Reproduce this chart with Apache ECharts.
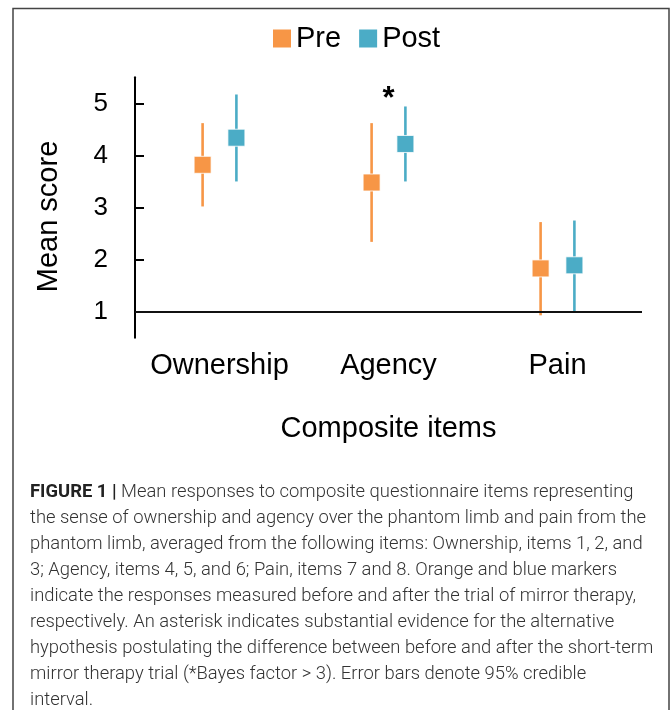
<!DOCTYPE html>
<html>
<head>
<meta charset="utf-8">
<script src="https://cdn.jsdelivr.net/npm/echarts@6/dist/echarts.min.js"></script>
<style>
html,body{margin:0;padding:0;background:#fff;}
#chart{width:672px;height:710px;}
</style>
</head>
<body>
<div id="chart"></div>
<script>
// ---- data ----
var categories = ['Ownership', 'Agency', 'Pain'];
var preMean  = [3.82, 3.48, 1.83];
var preLow   = [3.02, 2.34, 0.93];
var preHigh  = [4.62, 4.62, 2.72];
var postMean = [4.34, 4.22, 1.89];
var postLow  = [3.50, 3.50, 1.01];
var postHigh = [5.17, 4.94, 2.75];
var sigMarks = ['', '*', ''];
var yTickValues = [1, 2, 3, 4, 5];
var captionLines = [
  '{b|FIGURE 1 |} Mean responses to composite questionnaire items representing',
  'the sense of ownership and agency over the phantom limb and pain from the',
  'phantom limb, averaged from the following items: Ownership, items 1, 2, and',
  '3; Agency, items 4, 5, and 6; Pain, items 7 and 8. Orange and blue markers',
  'indicate the responses measured before and after the trial of mirror therapy,',
  'respectively. An asterisk indicates substantial evidence for the alternative',
  'hypothesis postulating the difference between before and after the short-term',
  'mirror therapy trial (*Bayes factor > 3). Error bars denote 95% credible',
  'interval.'
];

var ORANGE = '#F79646';
var BLUE = '#4BACC6';
var FONT = 'Liberation Sans, Arial, sans-serif';
var CAP_FONT = 'Roboto, Liberation Sans, sans-serif';

function buildData(mean, low, high) {
  return categories.map(function (c, i) { return [i, mean[i], low[i], high[i]]; });
}

function makeRender(offsetFrac, color) {
  return function (params, api) {
    var x = api.value(0);
    var bw = api.size([1, 0])[0];
    var dx = offsetFrac * bw;
    var c = api.coord([x, api.value(1)]);
    var lo = api.coord([x, api.value(2)]);
    var hi = api.coord([x, api.value(3)]);
    var px = c[0] + dx;
    var s = 17;
    return {
      type: 'group',
      children: [
        { type: 'line', shape: { x1: px, y1: lo[1], x2: px, y2: hi[1] },
          style: { stroke: color, lineWidth: 2.6 } },
        { type: 'rect', shape: { x: px - s / 2, y: c[1] - s / 2, width: s, height: s },
          style: { fill: color, stroke: 'rgba(255,255,255,0.8)', lineWidth: 1 } }
      ]
    };
  };
}

var chart = echarts.init(document.getElementById('chart'), null, { renderer: 'canvas' });

var option = {
  animation: false,
  backgroundColor: '#fff',
  textStyle: { fontFamily: FONT },
  grid: { left: 135, right: 30, top: 77.3, bottom: 372.3, containLabel: false },
  legend: {
    left: 268, top: 19,
    icon: 'rect', itemWidth: 18, itemHeight: 18, itemGap: 18,
    textStyle: { fontSize: 29, color: '#000', fontFamily: FONT },
    data: [
      { name: 'Pre', itemStyle: { color: ORANGE } },
      { name: 'Post', itemStyle: { color: BLUE } }
    ]
  },
  xAxis: {
    type: 'category',
    data: categories,
    boundaryGap: true,
    axisLine: { show: false },
    axisTick: { show: false },
    axisLabel: { fontSize: 29, color: '#000', margin: 14, interval: 0, hideOverlap: false, fontFamily: FONT },
    name: 'Composite items',
    nameLocation: 'middle',
    nameGap: 77,
    nameTextStyle: { fontSize: 29, color: '#000', fontFamily: FONT }
  },
  yAxis: {
    type: 'value',
    min: 0.5, max: 5.5, interval: 0.5,
    splitLine: { show: false },
    axisLine: { show: true, lineStyle: { color: '#000', width: 2 } },
    axisTick: { show: true, inside: true, length: 9, customValues: yTickValues,
      lineStyle: { color: '#000', width: 2 } },
    axisLabel: { fontSize: 26, color: '#000', margin: 27, customValues: yTickValues, fontFamily: FONT },
    name: 'Mean score',
    nameLocation: 'middle',
    nameGap: 72,
    nameTextStyle: { fontSize: 29, color: '#000', fontFamily: FONT, padding: [0, 18, 0, 0] }
  },
  series: [
    {
      name: 'Pre', type: 'custom',
      itemStyle: { color: ORANGE },
      renderItem: makeRender(-0.1, ORANGE),
      encode: { x: 0, y: [1, 2, 3] },
      data: buildData(preMean, preLow, preHigh),
      markLine: {
        silent: true, symbol: 'none', label: { show: false },
        lineStyle: { color: '#111', width: 2, type: 'solid' },
        data: [{ yAxis: 1 }]
      },
      z: 3
    },
    {
      name: 'Post', type: 'custom',
      itemStyle: { color: BLUE },
      renderItem: makeRender(0.1, BLUE),
      encode: { x: 0, y: [1, 2, 3] },
      data: buildData(postMean, postLow, postHigh),
      z: 3
    },
    {
      name: 'sig', type: 'custom',
      renderItem: function (params, api) {
        var i = api.value(0);
        var txt = sigMarks[i];
        if (!txt) return null;
        var p = api.coord([i, api.value(1)]);
        return { type: 'text', style: { text: txt, x: p[0], y: p[1] + 8, align: 'center',
          verticalAlign: 'bottom', fontSize: 31, fontWeight: 'bold', fill: '#000', fontFamily: FONT } };
      },
      encode: { x: 0, y: 1 },
      data: categories.map(function (c, i) { return [i, Math.max(preHigh[i], postHigh[i])]; }),
      silent: true
    }
  ],
  graphic: [
    { type: 'polyline', shape: { points: [[13, 720], [13, 8.5], [669, 8.5], [669, 720]] },
      style: { stroke: '#444', lineWidth: 1.5, fill: null }, silent: true },
    { type: 'text', left: 30, top: 479,
      style: {
        text: captionLines.join('\n'),
        fontSize: 18.4, lineHeight: 26, fill: '#333', fontFamily: CAP_FONT,
        fontWeight: 300,
        rich: { b: { fontWeight: 'bold', fontSize: 18.4, lineHeight: 26, fill: '#222', fontFamily: CAP_FONT } }
      } }
  ]
};

chart.setOption(option);
</script>
</body>
</html>
